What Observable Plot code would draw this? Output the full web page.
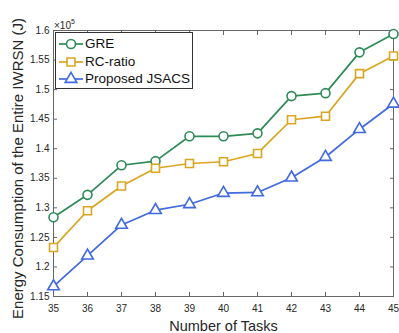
<!DOCTYPE html>
<html>
<head>
<meta charset="utf-8">
<script src="https://cdn.jsdelivr.net/npm/d3@7"></script>
<script src="https://cdn.jsdelivr.net/npm/@observablehq/plot@0.6"></script>
<style>
  body { margin: 0; background: #fff; }
  #wrap { position: relative; width: 399px; height: 333px; font-family: "Liberation Sans", Arial, Helvetica, sans-serif; color: #262626; }
  #legend { position: absolute; left: 55px; top: 32px; width: 138px; height: 57px; border: 1px solid #333; background: #fff; box-sizing: border-box; }
  .row { position: absolute; left: 0; height: 16px; line-height: 16px; font-size: 13.5px; white-space: nowrap; color: #111; }
  .row svg { position: absolute; left: 3px; top: 0; }
  .row span { position: absolute; left: 29px; top: 0; }
  #exp { position: absolute; left: 54px; top: 18px; font-size: 10px; line-height: 10px; color: #262626; }
  #exp sup { font-size: 7px; position: relative; top: -1px; }
</style>
</head>
<body>
<div id="wrap"></div>
<script>
// ---- data (values in units of 10^5 J) ----
const tasks = [35, 36, 37, 38, 39, 40, 41, 42, 43, 44, 45];
const gre     = [1.284, 1.322, 1.372, 1.379, 1.421, 1.421, 1.426, 1.489, 1.494, 1.563, 1.594];
const rcRatio = [1.233, 1.295, 1.337, 1.367, 1.375, 1.378, 1.392, 1.449, 1.455, 1.527, 1.557];
const jsacs   = [1.167, 1.219, 1.271, 1.296, 1.306, 1.325, 1.326, 1.351, 1.386, 1.433, 1.476];
const yTicks = [1.15, 1.2, 1.25, 1.3, 1.35, 1.4, 1.45, 1.5, 1.55, 1.6];
const yTickLabels = ["1.15", "1.2", "1.25", "1.3", "1.35", "1.4", "1.45", "1.5", "1.55", "1.6"];
const seriesNames = ["GRE", "RC-ratio", "Proposed JSACS"];
const seriesColors = ["#2E8B57", "#DAA520", "#4169E1"];
const seriesSymbols = ["circle", "square", "triangle"];
const seriesR = [4.5, 4.5, 4.3];
const xLabel = "Number of Tasks";
const yLabel = "Energy Consumption of the Entire IWRSN (J)";
const exponentBase = "\u00d710";
const exponentPower = "5";

const seriesValues = [gre, rcRatio, jsacs];
const rows = seriesNames.map((name, s) => tasks.map((t, i) => ({task: t, value: seriesValues[s][i], series: name})));

const seriesMarks = rows.flatMap((data, s) => [
  Plot.line(data, {x: "task", y: "value", stroke: seriesColors[s], strokeWidth: 1.7}),
  Plot.dot(data, {x: "task", y: "value", stroke: seriesColors[s], fill: "white", strokeWidth: 1.6, r: seriesR[s], symbol: seriesSymbols[s]})
]);

const axisColor = "#666";
const plot = Plot.plot({
  width: 399,
  height: 333,
  marginLeft: 53,
  marginRight: 6,
  marginTop: 30,
  marginBottom: 37,
  style: {fontFamily: '"Liberation Sans", Arial, Helvetica, sans-serif', fontSize: "10px", color: "#262626", background: "#fff", overflow: "visible"},
  x: {domain: [35, 45]},
  y: {domain: [1.15, 1.6]},
  marks: [
    Plot.axisX({anchor: "bottom", ticks: tasks, tickSize: -4, tickPadding: 12, label: null, stroke: axisColor, tickFormat: d => String(d)}),
    Plot.axisX({anchor: "top", ticks: tasks, tickSize: -4, tickFormat: () => "", label: null, stroke: axisColor}),
    Plot.axisY({anchor: "left", ticks: yTicks, tickSize: -4, tickPadding: 8, label: null, stroke: axisColor, tickFormat: d => yTickLabels[yTicks.indexOf(d)]}),
    Plot.axisY({anchor: "right", ticks: yTicks, tickSize: -4, tickFormat: () => "", label: null, stroke: axisColor}),
    Plot.frame({stroke: axisColor, strokeWidth: 1}),
    ...seriesMarks,
    Plot.text([xLabel], {frameAnchor: "bottom", text: d => d, dy: 34, lineAnchor: "bottom", textAnchor: "middle", fontSize: 14.5, fill: "#262626"}),
    Plot.text([yLabel], {frameAnchor: "left", text: d => d, rotate: -90, dx: -41, dy: 5, lineAnchor: "top", textAnchor: "middle", fontSize: 15, fill: "#262626"})
  ]
});

const wrap = document.getElementById("wrap");
wrap.appendChild(plot);

// exponent label
const exp = document.createElement("div");
exp.id = "exp";
exp.innerHTML = exponentBase + "<sup>" + exponentPower + "</sup>";
wrap.appendChild(exp);

// legend
const legend = document.createElement("div");
legend.id = "legend";
const symbolMap = {circle: d3.symbolCircle, square: d3.symbolSquare, triangle: d3.symbolTriangle};
seriesNames.forEach((name, s) => {
  const row = document.createElement("div");
  row.className = "row";
  row.style.top = (3 + s * 17.6) + "px";
  const path = d3.symbol(symbolMap[seriesSymbols[s]], Math.PI * seriesR[s] * seriesR[s])();
  row.innerHTML =
    `<svg width="26" height="16" viewBox="0 0 26 16">` +
    `<line x1="0" x2="24" y1="8" y2="8" stroke="${seriesColors[s]}" stroke-width="1.7"/>` +
    `<path d="${path}" transform="translate(12,8)" fill="white" stroke="${seriesColors[s]}" stroke-width="1.6"/>` +
    `</svg><span>${name}</span>`;
  legend.appendChild(row);
});
wrap.appendChild(legend);
</script>
</body>
</html>
